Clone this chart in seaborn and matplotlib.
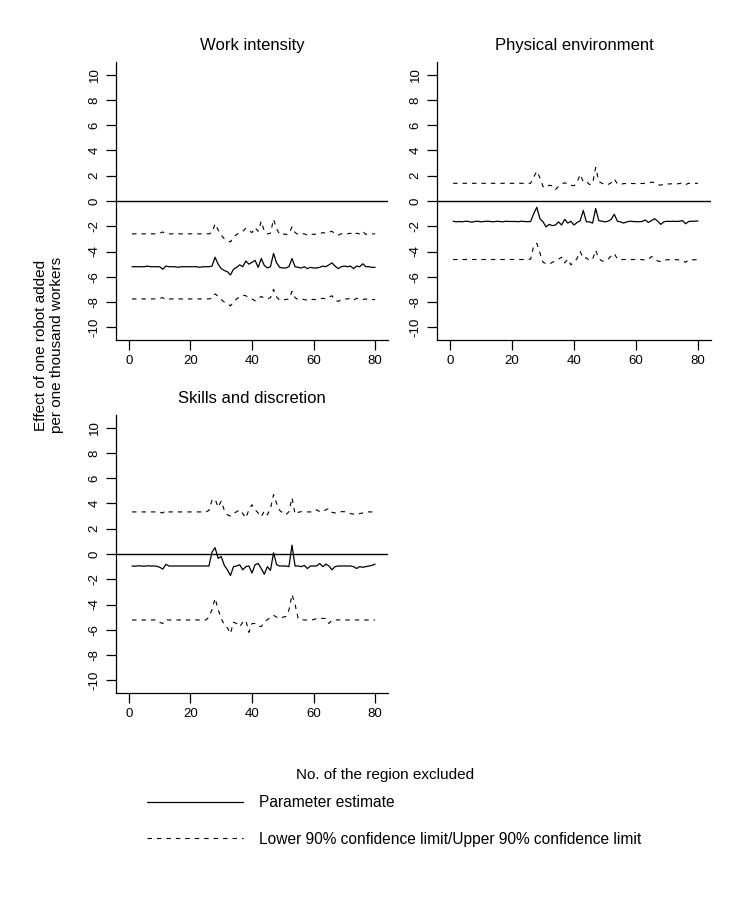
import matplotlib
matplotlib.use("Agg")
import matplotlib.pyplot as plt
from matplotlib.lines import Line2D
import numpy as np
import pandas as pd
import seaborn as sns

# region excluded (1..80)
region = list(range(1, 81))

# Work intensity
wi_est = [-5.2, -5.2, -5.2, -5.2, -5.2, -5.15, -5.2, -5.2, -5.2, -5.2,
          -5.4, -5.15, -5.2, -5.2, -5.2, -5.25, -5.2, -5.2, -5.2, -5.2,
          -5.2, -5.2, -5.25, -5.2, -5.2, -5.2, -5.15, -4.45, -5.0, -5.35,
          -5.5, -5.6, -5.85, -5.4, -5.25, -5.05, -5.2, -4.75, -5.0, -4.85,
          -4.7, -5.25, -4.55, -5.1, -5.3, -5.2, -4.15, -4.9, -5.25, -5.3,
          -5.3, -5.2, -4.55, -5.2, -5.25, -5.3, -5.2, -5.35, -5.25, -5.3,
          -5.3, -5.25, -5.15, -5.2, -5.05, -4.9, -5.15, -5.35, -5.2, -5.15,
          -5.2, -5.15, -5.35, -5.15, -5.2, -4.97, -5.2, -5.2, -5.25, -5.25]
wi_hi = [-2.6, -2.6, -2.6, -2.6, -2.6, -2.6, -2.6, -2.6, -2.6, -2.55,
         -2.45, -2.6, -2.6, -2.6, -2.6, -2.6, -2.6, -2.6, -2.6, -2.6,
         -2.6, -2.6, -2.6, -2.6, -2.6, -2.6, -2.5, -1.8, -2.3, -2.7,
         -3.0, -3.1, -3.25, -2.85, -2.65, -2.5, -2.4, -2.15, -2.35, -2.5,
         -2.1, -2.4, -1.6, -2.4, -2.6, -2.55, -1.45, -2.2, -2.65, -2.6,
         -2.65, -2.6, -2.05, -2.5, -2.65, -2.6, -2.6, -2.7, -2.6, -2.65,
         -2.6, -2.6, -2.5, -2.55, -2.45, -2.4, -2.6, -2.7, -2.6, -2.55,
         -2.6, -2.55, -2.7, -2.55, -2.6, -2.4, -2.65, -2.6, -2.6, -2.6]
wi_lo = [-7.75, -7.75, -7.75, -7.75, -7.75, -7.75, -7.75, -7.75, -7.75, -7.7,
         -7.65, -7.8, -7.75, -7.75, -7.75, -7.75, -7.75, -7.75, -7.75, -7.75,
         -7.75, -7.75, -7.75, -7.75, -7.75, -7.75, -7.7, -7.35, -7.55, -7.8,
         -8.0, -8.1, -8.3, -8.0, -7.75, -7.6, -7.45, -7.5, -7.65, -7.75,
         -7.9, -7.75, -7.55, -7.7, -7.75, -7.65, -7.0, -7.6, -7.85, -7.8,
         -7.8, -7.75, -7.15, -7.65, -7.8, -7.75, -7.8, -7.85, -7.75, -7.8,
         -7.8, -7.75, -7.7, -7.75, -7.6, -7.5, -7.85, -7.95, -7.8, -7.75,
         -7.75, -7.7, -7.85, -7.7, -7.75, -7.8, -7.75, -7.8, -7.8, -7.8]

# Physical environment
pe_est = [-1.6, -1.65, -1.62, -1.65, -1.6, -1.62, -1.68, -1.62, -1.6, -1.65,
          -1.62, -1.6, -1.62, -1.65, -1.6, -1.62, -1.65, -1.6, -1.62, -1.62,
          -1.62, -1.64, -1.6, -1.62, -1.64, -1.62, -1.0, -0.5, -1.4, -1.65,
          -2.05, -1.85, -1.95, -1.9, -1.65, -1.9, -1.45, -1.75, -1.6, -1.9,
          -1.7, -1.55, -0.75, -1.65, -1.65, -1.75, -0.6, -1.55, -1.6, -1.65,
          -1.6, -1.45, -1.05, -1.6, -1.65, -1.75, -1.65, -1.6, -1.62, -1.64,
          -1.64, -1.62, -1.5, -1.7, -1.55, -1.4, -1.6, -1.85, -1.65, -1.6,
          -1.62, -1.6, -1.62, -1.6, -1.55, -1.8, -1.62, -1.6, -1.6, -1.58]
pe_hi = [1.4, 1.4, 1.4, 1.4, 1.4, 1.4, 1.4, 1.4, 1.4, 1.4,
         1.4, 1.4, 1.4, 1.4, 1.4, 1.4, 1.4, 1.4, 1.4, 1.4,
         1.4, 1.4, 1.4, 1.4, 1.4, 1.4, 1.9, 2.35, 1.85, 1.15,
         1.05, 1.25, 1.2, 0.9, 1.15, 1.35, 1.45, 1.3, 1.25, 1.2,
         1.5, 2.1, 1.5, 1.55, 1.3, 1.4, 2.65, 1.55, 1.4, 1.3,
         1.3, 1.45, 1.75, 1.35, 1.3, 1.38, 1.38, 1.4, 1.38, 1.38,
         1.4, 1.38, 1.4, 1.4, 1.5, 1.45, 1.3, 1.25, 1.35, 1.35,
         1.35, 1.38, 1.35, 1.38, 1.45, 1.3, 1.4, 1.4, 1.4, 1.4]
pe_lo = [-4.63, -4.63, -4.63, -4.63, -4.63, -4.63, -4.63, -4.63, -4.63, -4.63,
         -4.63, -4.63, -4.63, -4.63, -4.63, -4.63, -4.63, -4.63, -4.63, -4.63,
         -4.63, -4.63, -4.63, -4.63, -4.63, -4.6, -3.55, -3.35, -4.1, -4.85,
         -4.95, -5.0, -4.85, -4.75, -4.6, -4.45, -4.9, -4.6, -5.05, -4.85,
         -4.55, -4.0, -4.55, -4.5, -4.7, -4.6, -3.9, -4.55, -4.75, -4.75,
         -4.6, -4.35, -4.15, -4.6, -4.65, -4.63, -4.63, -4.63, -4.63, -4.63,
         -4.65, -4.63, -4.7, -4.6, -4.4, -4.5, -4.75, -4.8, -4.7, -4.65,
         -4.65, -4.63, -4.65, -4.65, -4.7, -4.85, -4.65, -4.65, -4.65, -4.63]

# Skills and discretion
sd_est = [-0.95, -0.97, -0.93, -0.95, -0.97, -0.93, -0.95, -0.95, -0.97, -1.05,
          -1.2, -0.82, -0.95, -0.95, -0.95, -0.95, -0.95, -0.95, -0.95, -0.95,
          -0.95, -0.95, -0.95, -0.95, -0.95, -0.95, 0.15, 0.5, -0.35, -0.2,
          -0.9, -1.25, -1.7, -1.0, -0.95, -0.85, -1.25, -1.0, -0.95, -1.5,
          -0.85, -0.75, -1.15, -1.6, -1.0, -1.3, 0.1, -0.85, -0.95, -0.95,
          -0.95, -1.0, 0.7, -0.95, -0.95, -1.0, -0.9, -1.15, -0.95, -0.95,
          -0.95, -0.75, -1.0, -0.8, -0.95, -1.25, -1.0, -0.95, -0.95, -0.95,
          -0.95, -0.95, -1.0, -1.15, -1.0, -1.05, -1.0, -0.95, -0.9, -0.8]
sd_hi = [3.33, 3.33, 3.33, 3.33, 3.33, 3.33, 3.33, 3.33, 3.33, 3.3,
         3.25, 3.45, 3.33, 3.33, 3.33, 3.33, 3.33, 3.33, 3.33, 3.33,
         3.33, 3.33, 3.33, 3.33, 3.33, 3.45, 4.25, 4.35, 3.7, 4.2,
         3.45, 3.1, 3.0, 3.2, 3.35, 3.5, 3.2, 2.85, 3.5, 3.9,
         3.5, 3.25, 2.95, 3.4, 3.1, 3.6, 4.7, 4.0, 3.45, 3.25,
         3.1, 3.35, 4.45, 3.15, 3.3, 3.35, 3.33, 3.33, 3.33, 3.33,
         3.5, 3.35, 3.35, 3.5, 3.6, 3.3, 3.25, 3.35, 3.35, 3.35,
         3.3, 3.2, 3.15, 3.1, 3.2, 3.25, 3.33, 3.33, 3.33, 3.33]
sd_lo = [-5.22, -5.22, -5.22, -5.22, -5.22, -5.22, -5.22, -5.22, -5.22, -5.4,
         -5.5, -5.2, -5.22, -5.22, -5.22, -5.22, -5.22, -5.22, -5.22, -5.22,
         -5.22, -5.22, -5.22, -5.22, -5.22, -5.0, -4.4, -3.5, -4.4, -5.1,
         -5.6, -5.85, -6.3, -5.4, -5.5, -5.75, -5.4, -5.25, -6.2, -5.5,
         -5.5, -5.7, -5.75, -5.4, -5.2, -5.0, -4.85, -5.0, -5.1, -5.0,
         -4.95, -4.45, -3.2, -4.0, -5.1, -5.2, -5.22, -5.22, -5.2, -5.2,
         -5.1, -5.1, -5.1, -5.1, -5.5, -5.25, -5.2, -5.22, -5.22, -5.22,
         -5.22, -5.22, -5.22, -5.22, -5.22, -5.22, -5.22, -5.22, -5.22, -5.22]

titles = ["Work intensity", "Physical environment", "Skills and discretion"]
series = [(wi_est, wi_lo, wi_hi), (pe_est, pe_lo, pe_hi), (sd_est, sd_lo, sd_hi)]
y_ticks = [-10, -8, -6, -4, -2, 0, 2, 4, 6, 8, 10]
x_ticks = [0, 20, 40, 60, 80]

sns.set_style("ticks")
plt.rcParams["font.family"] = ["Liberation Sans", "DejaVu Sans"]
plt.rcParams["text.color"] = "black"
plt.rcParams["xtick.color"] = "black"
plt.rcParams["ytick.color"] = "black"

W, H = 747, 897
fig = plt.figure(figsize=(W / 100, H / 100), dpi=100)

# panel boxes in pixels: left, top, right, bottom
boxes = [(116, 62, 388, 340), (437, 62, 711, 340), (116, 415, 388, 693)]

for (l, t, r, b), title, (est, lo, hi) in zip(boxes, titles, series):
    ax = fig.add_axes([l / W, 1 - b / H, (r - l) / W, (b - t) / H])
    df = pd.DataFrame({"region": region, "est": est, "lo": lo, "hi": hi})
    ax.axhline(0, color="black", lw=1.0)
    sns.lineplot(data=df, x="region", y="est", ax=ax, color="black", lw=0.9)
    for col in ["lo", "hi"]:
        sns.lineplot(data=df, x="region", y=col, ax=ax, color="black",
                     lw=0.8, dashes=False, linestyle=(0, (4, 4.5)))
    ax.set_xlim(-4.2, 84.2)
    ax.set_ylim(-11, 11)
    ax.set_xticks(x_ticks)
    ax.set_yticks(y_ticks)
    ax.set_yticklabels([str(v) for v in y_ticks], rotation=90, va="center")
    ax.tick_params(axis="both", labelsize=9.5, length=7, width=0.9,
                   color="black", labelcolor="black", pad=4)
    ax.set_xlabel("")
    ax.set_ylabel("")
    ax.set_title(title, fontsize=12, pad=9, color="black")
    for s in ["top", "right"]:
        ax.spines[s].set_visible(False)
    for s in ["left", "bottom"]:
        ax.spines[s].set_linewidth(0.9)
        ax.spines[s].set_color("black")

fig.text(49 / W, 1 - 345 / H, "Effect of one robot added\nper one thousand workers",
         rotation=90, ha="center", va="center", fontsize=11, linespacing=1.1)
fig.text(385 / W, 1 - 775 / H, "No. of the region excluded",
         ha="center", va="center", fontsize=11)

handles = [Line2D([], [], color="black", lw=0.9),
           Line2D([], [], color="black", lw=0.8, linestyle=(0, (4, 4.5)))]
labels = ["Parameter estimate",
          "Lower 90% confidence limit/Upper 90% confidence limit"]
fig.legend(handles, labels, loc="upper left",
           bbox_to_anchor=(147 / W, 1 - 795 / H), frameon=False,
           fontsize=11.2, handlelength=6.2, handletextpad=1.03,
           labelspacing=1.4, borderpad=0, borderaxespad=0)

fig.savefig("out.png", dpi=100)
